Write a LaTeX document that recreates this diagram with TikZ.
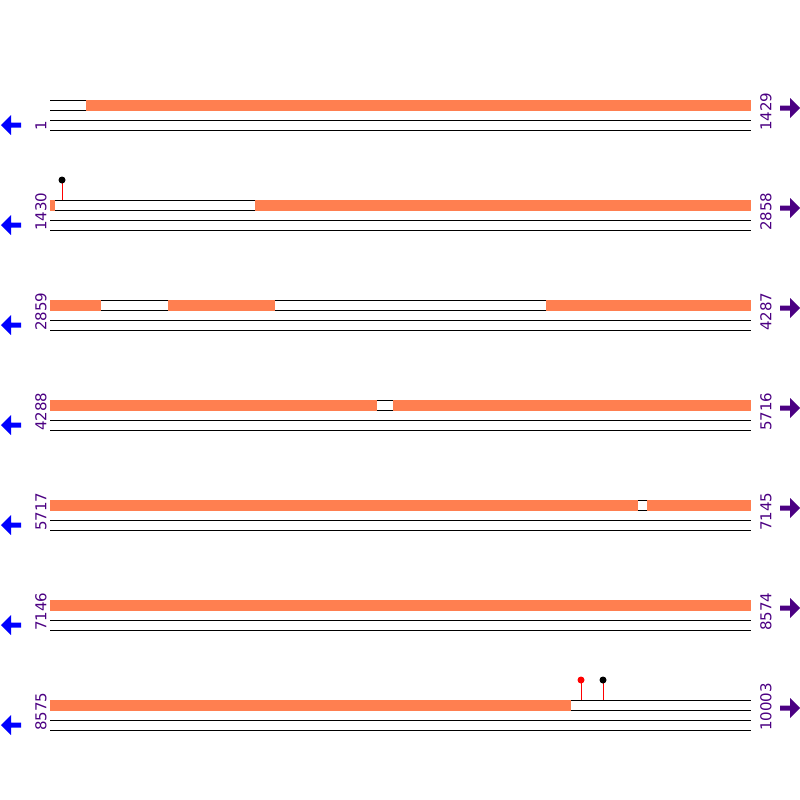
\documentclass[tikz,border=0pt]{standalone}
\usepackage{fontspec}
\setmainfont{DejaVu Sans}
\definecolor{seg}{RGB}{255,127,80}
\definecolor{lab}{RGB}{75,0,130}
\definecolor{larr}{RGB}{0,0,255}
\begin{document}
\begin{tikzpicture}[x=1pt,y=-1pt,
  track/.style={draw=black,line width=1pt},
  segbox/.style={fill=seg},
  numlab/.style={rotate=90,anchor=west,inner sep=0pt,text=lab,font=\fontsize{15}{15}\selectfont},
  pinline/.style={draw=red,line width=1pt},
  ]
\useasboundingbox (0,0) rectangle (800,800);
\foreach \r/\a/\b in {1/1/1429,2/1430/2858,3/2859/4287,4/4288/5716,5/5717/7145,6/7146/8574,7/8575/10003}{
  \pgfmathsetmacro{\yz}{100*\r}
  \draw[track] (50,\yz) -- (751,\yz);
  \draw[track] (50,\yz+10) -- (751,\yz+10);
  \draw[track] (50,\yz+20) -- (751,\yz+20);
  \draw[track] (50,\yz+30) -- (751,\yz+30);
  \node[numlab] (L\r) at (41,\yz+31) {\a};
  \node[numlab] (R\r) at (766,\yz+31) {\b};
  \fill[larr] (1,\yz+25) -- (11,\yz+15) -- (11,\yz+22.5) -- (21,\yz+22.5) -- (21,\yz+27.5) -- (11,\yz+27.5) -- (11,\yz+35) -- cycle;
  \fill[lab] (800,\yz+8) -- (790,\yz-2) -- (790,\yz+5.5) -- (780,\yz+5.5) -- (780,\yz+10.5) -- (790,\yz+10.5) -- (790,\yz+18) -- cycle;
}
% orange segments
\foreach \yz/\s/\e in {100/86/751,
  200/50/55, 200/255/751,
  300/50/101, 300/168/275, 300/546/751,
  400/50/376.5, 400/393/751,
  500/50/638.3, 500/647.3/751,
  600/50/751,
  700/50/571}{
  \fill[segbox] (\s,\yz-0.5) rectangle (\e,\yz+10.5);
}
% pins
\draw[pinline] (62,200) -- (62,180);
\fill[black] (62,180) circle (3.5);
\draw[pinline] (581,700) -- (581,680);
\fill[red] (581,680) circle (3.5);
\draw[pinline] (603,700) -- (603,680);
\fill[black] (603,680) circle (3.5);
\end{tikzpicture}
\end{document}
